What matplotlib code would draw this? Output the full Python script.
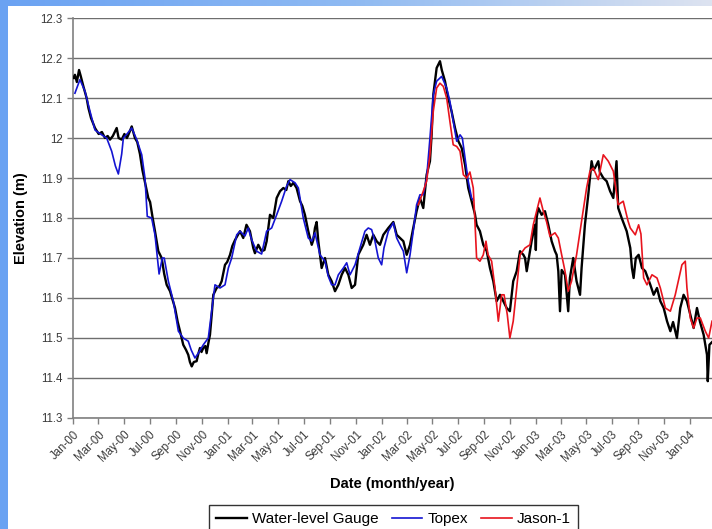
import numpy as np
import pandas as pd
import matplotlib
matplotlib.use("Agg")
import matplotlib.pyplot as plt
import matplotlib.dates as mdates

plt.rcParams['font.family'] = ['Liberation Sans', 'DejaVu Sans']

# months elapsed since 1 Jan 2000, elevation (m)
gauge_month = [0.05, 0.15, 0.3, 0.47, 0.6, 0.8, 1.06, 1.2, 1.4, 1.71, 2.0, 2.25, 2.49, 2.7, 2.88,
               3.1, 3.4, 3.55, 3.79, 4.0, 4.2, 4.4, 4.57, 4.82, 5.0, 5.21, 5.4, 5.6, 5.86, 6.0,
               6.2, 6.38, 6.64, 6.9, 7.1, 7.29, 7.55, 7.94, 8.15, 8.33, 8.58, 8.8, 8.97, 9.1,
               9.24, 9.4, 9.62, 9.75, 9.88, 10.0, 10.14, 10.3, 10.4, 10.55, 10.66, 10.8, 10.92,
               11.18, 11.4, 11.57, 11.83, 12.0, 12.22, 12.4, 12.61, 13.0, 13.25, 13.5, 13.77,
               14.03, 14.16, 14.42, 14.68, 14.9, 15.07, 15.33, 15.59, 15.85, 16.11, 16.37, 16.6,
               16.76, 16.95, 17.15, 17.4, 17.67, 17.85, 18.05, 18.31, 18.58, 18.7, 18.83, 18.96,
               19.09, 19.35, 19.61, 19.87, 20.13, 20.39, 20.65, 20.91, 21.17, 21.43, 21.69,
               21.95, 22.2, 22.59, 22.85, 23.11, 23.37, 23.63, 23.89, 24.15, 24.54, 24.93, 25.19,
               25.45, 25.71, 25.97, 26.23, 26.48, 26.74, 27.0, 27.26, 27.52, 27.78, 27.91, 28.04,
               28.3, 28.56, 28.7, 28.95, 29.2, 29.46, 29.73, 29.99, 30.25, 30.51, 30.76, 31.02,
               31.28, 31.41, 31.67, 31.93, 32.2, 32.45, 32.71, 32.97, 33.23, 33.49, 33.75, 34.0,
               34.26, 34.53, 34.79, 35.05, 35.18, 35.31, 35.69, 35.95, 36.02, 36.08, 36.21,
               36.47, 36.73, 36.99, 37.25, 37.51, 37.64, 37.77, 37.9, 38.03, 38.29, 38.54, 38.67,
               38.93, 39.19, 39.46, 39.58, 39.84, 40.1, 40.36, 40.5, 40.62, 40.88, 41.0, 41.27,
               41.53, 41.8, 42.05, 42.3, 42.43, 42.7, 43.09, 43.37, 43.5, 43.63, 43.8, 44.02,
               44.28, 44.54, 44.93, 45.19, 45.45, 45.71, 45.97, 46.23, 46.49, 46.7, 47.0, 47.26,
               47.52, 47.78, 48.04, 48.3, 48.56, 48.8, 49.08, 49.34, 49.4, 49.53, 49.8]
gauge_elev = [12.15, 12.158, 12.14, 12.17, 12.155, 12.13, 12.1, 12.075, 12.05, 12.025, 12.01, 12.015,
              12.0, 12.005, 11.996, 12.005, 12.025, 12.0, 11.996, 12.01, 12.0, 12.015, 12.029, 12.0,
              11.99, 11.96, 11.92, 11.89, 11.85, 11.84, 11.80, 11.767, 11.717, 11.70, 11.66, 11.633,
              11.617, 11.575, 11.54, 11.517, 11.483, 11.47, 11.458, 11.44, 11.429, 11.44, 11.442,
              11.46, 11.475, 11.465, 11.475, 11.48, 11.462, 11.49, 11.508, 11.56, 11.608, 11.625,
              11.63, 11.642, 11.683, 11.69, 11.708, 11.73, 11.745, 11.767, 11.75, 11.783, 11.767,
              11.725, 11.712, 11.733, 11.717, 11.72, 11.742, 11.808, 11.80, 11.85, 11.867, 11.875,
              11.87, 11.892, 11.88, 11.888, 11.875, 11.842, 11.83, 11.808, 11.767, 11.733, 11.745,
              11.775, 11.79, 11.742, 11.675, 11.70, 11.658, 11.642, 11.617, 11.633, 11.658, 11.675,
              11.658, 11.625, 11.633, 11.708, 11.733, 11.758, 11.733, 11.758, 11.742, 11.733,
              11.758, 11.775, 11.79, 11.758, 11.75, 11.742, 11.708, 11.733, 11.775, 11.817, 11.85,
              11.825, 11.908, 11.942, 12.008, 12.108, 12.175, 12.192, 12.17, 12.142, 12.1, 12.067,
              12.025, 11.992, 11.975, 11.933, 11.875, 11.842, 11.81, 11.783, 11.767, 11.733,
              11.717, 11.675, 11.642, 11.592, 11.608, 11.592, 11.575, 11.567, 11.642, 11.667,
              11.717, 11.708, 11.70, 11.667, 11.742, 11.783, 11.72, 11.80, 11.825, 11.808, 11.817,
              11.783, 11.742, 11.717, 11.708, 11.667, 11.567, 11.67, 11.658, 11.567, 11.65, 11.70,
              11.642, 11.608, 11.675, 11.783, 11.858, 11.942, 11.92, 11.925, 11.942, 11.915, 11.9,
              11.892, 11.867, 11.85, 11.942, 11.825, 11.80, 11.767, 11.725, 11.675, 11.65, 11.70,
              11.708, 11.675, 11.667, 11.633, 11.608, 11.625, 11.592, 11.575, 11.542, 11.517,
              11.54, 11.50, 11.575, 11.608, 11.592, 11.558, 11.525, 11.575, 11.54, 11.508, 11.458,
              11.392, 11.483, 11.492]

topex_month = [0.15, 0.54, 0.93, 1.32, 1.71, 2.23, 2.62, 3.01, 3.3, 3.53, 3.79, 3.92, 4.2, 4.57,
               4.96, 5.35, 5.6, 5.78, 6.12, 6.38, 6.7, 6.95, 7.1, 7.42, 7.81, 8.2, 8.58, 8.97,
               9.2, 9.49, 9.75, 10.14, 10.53, 10.79, 11.05, 11.44, 11.83, 12.09, 12.35, 12.74,
               13.0, 13.38, 13.64, 13.9, 14.29, 14.68, 15.07, 15.46, 15.85, 16.24, 16.63, 16.89,
               17.28, 17.54, 17.92, 18.31, 18.58, 18.83, 19.22, 19.61, 19.87, 20.13, 20.39, 20.65,
               21.04, 21.3, 21.56, 21.95, 22.33, 22.72, 22.98, 23.24, 23.5, 23.76, 24.02, 24.2,
               24.54, 24.93, 25.19, 25.45, 25.71, 25.97, 26.23, 26.48, 26.74, 27.0, 27.26, 27.52,
               27.78, 28.04, 28.3, 28.69, 29.08, 29.33, 29.59, 29.86, 30.12, 30.3, 30.51, 30.76,
               31.02, 31.15]
topex_elev = [12.112, 12.146, 12.117, 12.067, 12.02, 12.008, 12.0, 11.967, 11.93, 11.91, 11.96, 12.0,
              12.01, 12.025, 11.996, 11.958, 11.9, 11.804, 11.80, 11.758, 11.66, 11.70, 11.70,
              11.642, 11.592, 11.517, 11.5, 11.492, 11.47, 11.45, 11.462, 11.483, 11.5, 11.567,
              11.633, 11.625, 11.633, 11.675, 11.70, 11.758, 11.767, 11.755, 11.775, 11.746,
              11.717, 11.71, 11.767, 11.775, 11.808, 11.842, 11.88, 11.896, 11.888, 11.875, 11.80,
              11.75, 11.742, 11.763, 11.708, 11.692, 11.654, 11.633, 11.633, 11.658, 11.675,
              11.688, 11.658, 11.683, 11.725, 11.767, 11.775, 11.771, 11.742, 11.70, 11.683,
              11.725, 11.767, 11.788, 11.75, 11.733, 11.717, 11.663, 11.708, 11.767, 11.833,
              11.858, 11.858, 11.9, 12.0, 12.108, 12.142, 12.154, 12.125, 12.092, 12.042, 11.992,
              12.008, 12.0, 11.95, 11.892, 11.85, 11.845]

jason_month = [26.87, 27.26, 27.52, 27.78, 28.04, 28.3, 28.56, 28.82, 29.08, 29.33, 29.59, 29.86,
               30.12, 30.38, 30.64, 30.89, 31.15, 31.28, 31.41, 31.67, 31.93, 32.14, 32.3, 32.58,
               32.84, 33.1, 33.36, 33.55, 33.8, 34.0, 34.26, 34.53, 34.79, 35.18, 35.56, 35.82,
               36.08, 36.34, 36.6, 36.86, 37.12, 37.51, 37.77, 38.03, 38.29, 38.54, 38.8, 39.19,
               39.58, 39.97, 40.23, 40.49, 40.88, 41.27, 41.66, 42.05, 42.43, 42.82, 43.2, 43.37,
               43.76, 44.02, 44.2, 44.41, 44.67, 45.06, 45.45, 45.71, 46.1, 46.49, 46.87, 47.39,
               47.65, 47.78, 48.04, 48.3, 48.56, 48.82, 49.21, 49.47, 49.73]
jason_elev = [11.833, 11.867, 11.892, 11.958, 12.067, 12.125, 12.137, 12.129, 12.1, 12.042, 11.983,
              11.979, 11.967, 11.908, 11.9, 11.915, 11.875, 11.792, 11.70, 11.692, 11.708, 11.742,
              11.708, 11.692, 11.625, 11.542, 11.608, 11.608, 11.558, 11.50, 11.542, 11.625,
              11.708, 11.725, 11.733, 11.783, 11.817, 11.85, 11.817, 11.79, 11.754, 11.763, 11.75,
              11.708, 11.667, 11.617, 11.642, 11.708, 11.792, 11.875, 11.917, 11.925, 11.896,
              11.958, 11.942, 11.917, 11.833, 11.842, 11.792, 11.775, 11.758, 11.783, 11.76,
              11.65, 11.633, 11.658, 11.65, 11.625, 11.575, 11.567, 11.608, 11.683, 11.692,
              11.625, 11.55, 11.525, 11.55, 11.55, 11.517, 11.50, 11.542]

start = pd.Timestamp('2000-01-01')


def to_date(months):
    return start + pd.to_timedelta(np.array(months) * 30.4375, unit='D')


fig = plt.figure(figsize=(7.12, 5.29), dpi=100)

# slide background strips (blue frame)
strip_top = fig.add_axes([0, 1 - 6 / 529, 1, 6 / 529])
grad = np.linspace(0, 1, 256).reshape(1, -1)
strip_top.imshow(grad, aspect='auto', cmap=matplotlib.colors.LinearSegmentedColormap.from_list(
    'bg', ['#6aa2f2', '#8fbaf2', '#dde3f0']), extent=[0, 1, 0, 1])
strip_top.axis('off')
strip_left = fig.add_axes([0, 0, 8 / 712, 1])
strip_left.set_facecolor('#6aa2f2')
strip_left.set_xticks([])
strip_left.set_yticks([])
for s in strip_left.spines.values():
    s.set_visible(False)

ax = fig.add_axes([73 / 712, (529 - 418) / 529, (712 - 73) / 712, 400 / 529])

ax.plot(to_date(gauge_month), gauge_elev, color='black', lw=1.7, label='Water-level Gauge', zorder=3)
ax.plot(to_date(topex_month), topex_elev, color='#1414d2', lw=1.2, label='Topex', zorder=4)
ax.plot(to_date(jason_month), jason_elev, color='#e8141e', lw=1.2, label='Jason-1', zorder=5)

ax.set_ylim(11.3, 12.3)
ax.set_yticks(np.arange(11.3, 12.31, 0.1))
ax.set_yticklabels(['11.3', '11.4', '11.5', '11.6', '11.7', '11.8', '11.9', '12', '12.1', '12.2', '12.3'])
ax.set_xlim(start, to_date([49.73])[0])

ax.xaxis.set_major_locator(mdates.MonthLocator(bymonth=[1, 3, 5, 7, 9, 11]))
ax.xaxis.set_major_formatter(mdates.DateFormatter('%b-%y'))
plt.setp(ax.get_xticklabels(), rotation=45, ha='right', rotation_mode='anchor')

ax.grid(axis='y', color='#6e6e6e', lw=1)
ax.set_axisbelow(True)
for side in ['top', 'right']:
    ax.spines[side].set_visible(False)
for side in ['left', 'bottom']:
    ax.spines[side].set_color('#808080')
    ax.spines[side].set_linewidth(1.2)
ax.tick_params(axis='both', colors='#808080', labelcolor='#3a3a3a', labelsize=8.3, length=4, width=1)

ax.set_ylabel('Elevation (m)', fontsize=10.5, fontweight='bold', labelpad=9)
ax.set_xlabel('Date (month/year)', fontsize=10.5, fontweight='bold', labelpad=9)

# legend box runs past the bottom edge as in the slide
fig.legend(loc='upper center', bbox_to_anchor=(0.553, 1 - 505 / 529), borderaxespad=0,
           ncol=3, frameon=True, fancybox=False, edgecolor='black', fontsize=11,
           handlelength=2.0, columnspacing=0.85, handletextpad=0.35, borderpad=0.45)

plt.savefig('out.png', dpi=100)
